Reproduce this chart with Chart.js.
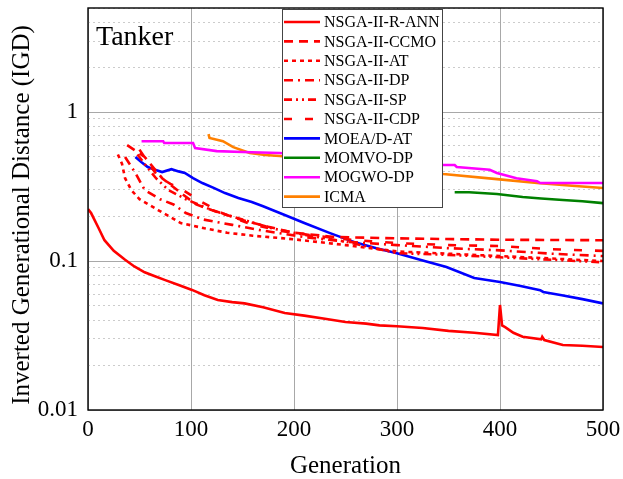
<!DOCTYPE html>
<html>
<head>
<meta charset="utf-8">
<script src="https://cdn.jsdelivr.net/npm/chart.js@4.4.1/dist/chart.umd.min.js"></script>
<style>
  html, body { margin: 0; padding: 0; background: #fff; }
  #wrap { width: 623px; height: 479px; position: relative; }
</style>
</head>
<body>
<div id="wrap"><canvas id="igdChart"></canvas></div>
<script>
/* ── Data ── */
const seriesNames = ['NSGA-II-R-ANN', 'NSGA-II-CCMO', 'NSGA-II-AT', 'NSGA-II-DP', 'NSGA-II-SP',
                     'NSGA-II-CDP', 'MOEA/D-AT', 'MOMVO-DP', 'MOGWO-DP', 'ICMA'];

const annGen  = [0, 3, 10, 16, 25, 36, 45, 55, 65, 75, 88, 101, 113, 126, 140, 152, 170, 191, 210, 230, 250, 270, 283, 300, 325, 350, 375, 398, 400, 402, 405, 413, 422, 440, 441, 443, 461, 480, 500];
const annIgd  = [0.223, 0.21, 0.168, 0.138, 0.117, 0.102, 0.092, 0.084, 0.079, 0.0745, 0.069, 0.064, 0.059, 0.0547, 0.053, 0.052, 0.049, 0.0448, 0.043, 0.041, 0.039, 0.038, 0.037, 0.0365, 0.0355, 0.034, 0.033, 0.0318, 0.0507, 0.037, 0.036, 0.033, 0.031, 0.0298, 0.031, 0.0295, 0.0273, 0.027, 0.0265];

const ccmoGen = [38, 55, 72, 92, 105, 120, 148, 175, 200, 240, 300, 400, 500];
const ccmoIgd = [0.60, 0.50, 0.36, 0.28, 0.24, 0.22, 0.19, 0.17, 0.155, 0.145, 0.142, 0.139, 0.138];

const atGen   = [29, 33, 36, 42, 50, 68, 90, 113, 135, 160, 200, 250, 300, 350, 400, 450, 500];
const atIgd   = [0.52, 0.45, 0.36, 0.30, 0.26, 0.22, 0.18, 0.166, 0.155, 0.148, 0.14, 0.128, 0.116, 0.112, 0.108, 0.104, 0.100];

const dpGen   = [36, 46, 55, 70, 83, 95, 112, 140, 170, 210, 250, 300, 350, 400, 450, 500];
const dpIgd   = [0.50, 0.39, 0.30, 0.26, 0.24, 0.21, 0.19, 0.175, 0.16, 0.145, 0.135, 0.128, 0.122, 0.118, 0.112, 0.108];

const spGen   = [48, 57, 66, 78, 95, 120, 150, 180, 210, 250, 300, 350, 400, 450, 500];
const spIgd   = [0.52, 0.43, 0.36, 0.30, 0.26, 0.22, 0.19, 0.165, 0.15, 0.135, 0.113, 0.11, 0.106, 0.102, 0.098];

const cdpGen  = [50, 60, 68, 80, 92, 110, 130, 155, 185, 220, 260, 300, 350, 400, 450, 500];
const cdpIgd  = [0.56, 0.44, 0.37, 0.33, 0.30, 0.25, 0.21, 0.18, 0.16, 0.148, 0.138, 0.132, 0.128, 0.126, 0.12, 0.117];

const moeadGen = [46, 52, 58, 65, 72, 81, 88, 94, 102, 111, 122, 133, 146, 159, 170, 179, 191, 210, 235, 260, 280, 300, 325, 348, 375, 400, 420, 439, 442, 460, 480, 500];
const moeadIgd = [0.499, 0.46, 0.428, 0.41, 0.396, 0.414, 0.40, 0.39, 0.36, 0.334, 0.31, 0.286, 0.265, 0.249, 0.233, 0.22, 0.204, 0.18, 0.154, 0.133, 0.122, 0.113, 0.101, 0.0912, 0.077, 0.0723, 0.068, 0.0638, 0.062, 0.059, 0.0555, 0.052];

const momvoGen = [356, 370, 397, 422, 440, 461, 480, 500];
const momvoIgd = [0.290, 0.290, 0.282, 0.269, 0.263, 0.257, 0.252, 0.245];

const mogwoGen = [52, 73, 74, 102, 104, 125, 150, 186, 220, 260, 300, 345, 356, 358, 390, 397, 416, 436, 439, 500];
const mogwoIgd = [0.638, 0.638, 0.62, 0.62, 0.573, 0.547, 0.54, 0.531, 0.51, 0.49, 0.465, 0.441, 0.441, 0.428, 0.41, 0.39, 0.36, 0.344, 0.334, 0.334];

const icmaGen = [117, 118, 131, 141, 157, 172, 186, 250, 300, 345, 397, 436, 470, 500];
const icmaIgd = [0.711, 0.67, 0.638, 0.582, 0.531, 0.515, 0.507, 0.46, 0.42, 0.384, 0.355, 0.334, 0.32, 0.309];

const xTicks = [0, 100, 200, 300, 400, 500];
const yTickLabels = ['0.01', '0.1', '1'];

/* ── Helpers ── */
const SERIF = "'Liberation Serif', 'Times New Roman', serif";
const pts = (g, v) => g.map((x, i) => ({ x, y: v[i] }));

const lineSet = (label, data, color, dash) => ({
  label, data,
  borderColor: color,
  backgroundColor: color,
  borderWidth: 2.6,
  borderDash: dash,
  pointRadius: 0,
  tension: 0,
  fill: false
});

const datasets = [
  lineSet(seriesNames[0], pts(annGen, annIgd),     '#ff0000', []),
  lineSet(seriesNames[1], pts(ccmoGen, ccmoIgd),   '#ff0000', [9, 6]),
  lineSet(seriesNames[2], pts(atGen, atIgd),       '#ff0000', [4, 4]),
  lineSet(seriesNames[3], pts(dpGen, dpIgd),       '#ff0000', [9, 5, 2, 5]),
  lineSet(seriesNames[4], pts(spGen, spIgd),       '#ff0000', [8, 4, 2, 4, 2, 4]),
  lineSet(seriesNames[5], pts(cdpGen, cdpIgd),     '#ff0000', [8, 13]),
  lineSet(seriesNames[6], pts(moeadGen, moeadIgd), '#0000ff', []),
  lineSet(seriesNames[7], pts(momvoGen, momvoIgd), '#008000', []),
  lineSet(seriesNames[8], pts(mogwoGen, mogwoIgd), '#ff00ff', []),
  lineSet(seriesNames[9], pts(icmaGen, icmaIgd),   '#ff8000', [])
];

// log ticks 0.01..5 (major decades + minor)
const yTickVals = [];
for (let d = -2; d <= 0; d++) {
  for (let m = 1; m <= 9; m++) {
    const v = +(m * Math.pow(10, d)).toPrecision(3);
    if (v <= 5) yTickVals.push(v);
  }
}
const isDecade = v => Math.abs(Math.log10(v) - Math.round(Math.log10(v))) < 1e-9;

// keep the plot box fixed: no extra room for overhanging tick labels
const noPad = s => { s.paddingTop = 0; s.paddingBottom = 0; s.paddingLeft = 0; s.paddingRight = 0; };

/* ── Frame, titles and legend drawn on top ── */
const decorPlugin = {
  id: 'decor',
  afterDatasetsDraw(chart) {
    const { ctx, chartArea: a } = chart;
    ctx.save();

    // frame
    ctx.strokeStyle = '#000';
    ctx.lineWidth = 1.4;
    ctx.strokeRect(a.left, a.top, a.right - a.left, a.bottom - a.top);

    // panel label
    ctx.fillStyle = '#000';
    ctx.font = `28px ${SERIF}`;
    ctx.textBaseline = 'alphabetic';
    ctx.textAlign = 'left';
    ctx.fillText('Tanker', 96, 45);

    // legend box
    const bx = 282, by = 9, bw = 160, bh = 198;
    ctx.fillStyle = '#fff';
    ctx.fillRect(bx, by, bw, bh);
    ctx.strokeStyle = '#444';
    ctx.lineWidth = 1;
    ctx.strokeRect(bx + 0.5, by + 0.5, bw, bh);

    ctx.font = `16px ${SERIF}`;
    ctx.textBaseline = 'middle';
    chart.data.datasets.forEach((ds, i) => {
      const cy = by + 13 + i * 19.4;
      ctx.strokeStyle = ds.borderColor;
      ctx.lineWidth = 2.6;
      ctx.setLineDash(ds.borderDash);
      ctx.beginPath();
      ctx.moveTo(bx + 2, cy);
      ctx.lineTo(bx + 38, cy);
      ctx.stroke();
      ctx.setLineDash([]);
      ctx.fillStyle = '#000';
      ctx.fillText(ds.label, bx + 42, cy + 1);
    });

    // axis titles
    ctx.font = `25px ${SERIF}`;
    ctx.textAlign = 'center';
    ctx.fillText('Generation', (a.left + a.right) / 2, 466);
    ctx.translate(22, 215);
    ctx.rotate(-Math.PI / 2);
    ctx.fillText('Inverted Generational Distance (IGD)', 0, 0);
    ctx.restore();
  }
};

/* ── Chart ── */
new Chart(document.getElementById('igdChart'), {
  type: 'line',
  data: { datasets },
  options: {
    responsive: true,
    maintainAspectRatio: false,
    animation: false,
    layout: { padding: { left: 0, right: 20, top: 8, bottom: 0 } },
    plugins: { legend: { display: false }, tooltip: { enabled: false } },
    scales: {
      x: {
        type: 'linear',
        min: 0, max: 500,
        afterBuildTicks: s => { s.ticks = xTicks.map(v => ({ value: v })); },
        afterFit: s => { s.height = 69; noPad(s); },
        grid: { color: '#a8a8a8', lineWidth: 1, drawTicks: false },
        border: { display: false },
        ticks: { color: '#000', padding: 6, maxRotation: 0, font: { family: SERIF, size: 23 } }
      },
      y: {
        type: 'logarithmic',
        min: 0.01, max: 5,
        afterBuildTicks: s => { s.ticks = yTickVals.map(v => ({ value: v })); },
        afterFit: s => { s.width = 88; noPad(s); },
        grid: {
          drawTicks: false,
          color: c => isDecade(c.tick.value) ? '#a8a8a8' : '#cccccc',
          lineWidth: 1
        },
        border: { display: false, dash: c => (c.tick && isDecade(c.tick.value)) ? [] : [2, 3] },
        ticks: {
          color: '#000',
          padding: 10,
          autoSkip: false,
          font: { family: SERIF, size: 23 },
          callback: v => {
            const s = String(+v.toPrecision(3));
            return yTickLabels.includes(s) ? s : '';
          }
        }
      }
    }
  },
  plugins: [decorPlugin]
});
</script>
</body>
</html>
